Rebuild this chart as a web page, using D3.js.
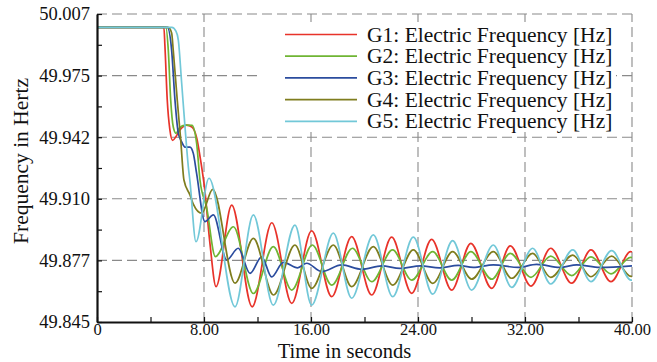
<!DOCTYPE html>
<html><head><meta charset="utf-8">
<script src="https://cdn.jsdelivr.net/npm/d3@7"></script>
<style>
html,body{margin:0;padding:0;background:#fff;}
</style></head>
<body><svg id="chart" width="657" height="362"></svg>
<script>
// ---------- data ----------
const seriesNames = ["G1: Electric Frequency [Hz]","G2: Electric Frequency [Hz]","G3: Electric Frequency [Hz]","G4: Electric Frequency [Hz]","G5: Electric Frequency [Hz]"];
const seriesColors = ["#e8332a","#6fb533","#2b4c9e","#7f7d1e","#72c8d8"];

const xTicks = [0, 8, 16, 24, 32, 40];
const xTickLabels = ["0", "8.00", "16.00", "24.00", "32.00", "40.00"];
const yTicks = [49.845, 49.8774, 49.9098, 49.9422, 49.9746, 50.007];
const yTickLabels = ["49.845", "49.877", "49.910", "49.942", "49.975", "50.007"];

const g1T = [0,5.0,5.08,5.25,5.45,5.65,5.9,6.2,6.7,7.1,7.45,7.75,8.05,8.45,8.9,10.07,11.6,13.07,14.56,16.05,17.55,19.04,20.54,22.03,23.53,25.02,26.52,27.95,29.51,30.9,32.45,33.92,35.49,36.93,38.43,39.9,40];
const g1F = [50.0,50.0,49.990,49.962,49.946,49.9405,49.9425,49.946,49.9486,49.9475,49.942,49.930,49.915,49.886,49.8636,49.9065,49.853,49.8972,49.8548,49.893,49.8583,49.8899,49.8592,49.8896,49.8601,49.8885,49.8618,49.8864,49.8627,49.885,49.8639,49.8838,49.8654,49.8829,49.8662,49.882,49.8818];

const g2T = [0,5.15,5.33,5.51,5.70,5.91,6.15,6.6,7.1,7.45,7.70,8.2,8.85,10.2,11.69,13.18,14.56,16.1,17.55,19.1,20.54,22.1,23.53,25.1,26.52,27.95,29.51,30.9,32.45,33.92,35.49,36.93,38.43,39.9,40];
const g2F = [50.0,50.0,49.988,49.9617,49.9477,49.9442,49.947,49.9486,49.9484,49.939,49.9197,49.905,49.8794,49.8951,49.860,49.8846,49.8618,49.8855,49.8644,49.8838,49.8662,49.8829,49.867,49.882,49.867,49.882,49.8675,49.8811,49.8685,49.8797,49.8694,49.8793,49.8703,49.879,49.8789];

const g3T = [0,5.26,5.58,5.83,6.08,6.33,6.58,6.95,7.2,7.45,8.07,8.70,9.70,10.56,11.44,12.31,13.06,13.93,15.0,15.68,16.8,18.3,19.79,21.29,22.65,24.2,25.6,27.0,28.13,29.63,31.5,32.87,34.62,35.87,37.61,40];
const g3F = [50.0,50.0,49.988,49.9617,49.9443,49.9398,49.937,49.937,49.9337,49.923,49.8978,49.9013,49.8776,49.8838,49.8706,49.8793,49.8687,49.8764,49.8735,49.8759,49.8715,49.875,49.8727,49.8745,49.8732,49.8745,49.8735,49.8748,49.8737,49.875,49.8737,49.8753,49.8737,49.875,49.8737,49.8745];

const g4T = [0,5.33,5.58,5.70,6.0,6.26,6.50,6.95,7.2,7.83,8.65,10.32,11.69,13.2,14.8,16.05,17.67,19.04,20.66,22.11,23.65,25.10,26.59,28.01,29.63,31.0,32.57,33.92,35.57,36.93,38.48,39.93,40];
const g4F = [50.0,50.0,49.997,49.988,49.9617,49.9407,49.9197,49.9118,49.907,49.9022,49.9148,49.8654,49.889,49.8592,49.8855,49.8627,49.8855,49.8636,49.8846,49.8644,49.8829,49.8653,49.882,49.8675,49.882,49.868,49.8811,49.8685,49.8802,49.8688,49.8797,49.869,49.869];

const g5T = [0,5.6,5.9,6.08,6.33,6.58,6.83,6.95,7.40,8.37,10.32,11.69,13.18,14.80,16.05,17.67,19.04,20.66,22.11,23.65,25.10,26.59,28.01,29.63,31.0,32.57,33.92,35.57,36.93,38.48,39.93,40];
const g5F = [50.0,50.0,49.998,49.9933,49.9707,49.9476,49.9265,49.919,49.8872,49.9206,49.853,49.9013,49.8539,49.896,49.8539,49.8917,49.8575,49.8908,49.8583,49.8896,49.8597,49.8878,49.8618,49.8855,49.8632,49.8838,49.865,49.8829,49.8662,49.8825,49.867,49.867];

const seriesT = [g1T, g2T, g3T, g4T, g5T];
const seriesF = [g1F, g2F, g3F, g4F, g5F];

// ---------- layout ----------
const FONT = "'Liberation Serif', 'Times New Roman', serif";
const svg = d3.select("#chart");
const mLeft = 97, mRight = 632, mTop = 14, mBottom = 322;
const x = d3.scaleLinear().domain([0, 40]).range([mLeft, mRight]);
const y = d3.scaleLinear().domain([49.845, 50.007]).range([mBottom, mTop]);

const gridColor = "#8a8a8a";
const grid = svg.append("g").attr("stroke", gridColor).attr("stroke-width", 1.1).attr("stroke-dasharray", "10,5");
grid.selectAll("line.h").data(yTicks.slice(1)).join("line").attr("class","h")
  .attr("x1", mLeft).attr("x2", mRight).attr("y1", d => y(d)).attr("y2", d => y(d));
grid.selectAll("line.v").data(xTicks.slice(1)).join("line").attr("class","v")
  .attr("y1", mBottom).attr("y2", mTop).attr("x1", d => x(d)).attr("x2", d => x(d));

// legend background (hides grid)
const legend = svg.append("g");
legend.append("rect").attr("x", 258).attr("y", 23).attr("width", 358).attr("height", 108).attr("fill", "#fff");

// lines
const line = d3.line().curve(d3.curveMonotoneX);
seriesT.forEach((ts, i) => {
  const pts = ts.map((t, j) => [x(t), y(seriesF[i][j])]);
  svg.append("path").attr("d", line(pts)).attr("fill", "none")
    .attr("stroke", seriesColors[i]).attr("stroke-width", 1.7).attr("stroke-linejoin","round");
});

// legend entries
seriesNames.forEach((name, i) => {
  const cy = 34.5 + i * 21.7;
  legend.append("line").attr("x1", 285).attr("x2", 357).attr("y1", cy).attr("y2", cy)
    .attr("stroke", seriesColors[i]).attr("stroke-width", 1.7);
  legend.append("text").attr("x", 367).attr("y", cy + 7).style("font-family", FONT)
    .style("font-size", "21.5px").style("fill", "#111").text(name);
});

// axes
const yMinor = d3.range(0, yTicks.length - 1).map(i => (yTicks[i] + yTicks[i+1]) / 2);
const xMinor = d3.range(0, xTicks.length - 1).map(i => (xTicks[i] + xTicks[i+1]) / 2);

const yAxis = svg.append("g").attr("transform", `translate(${mLeft},0)`)
  .call(d3.axisLeft(y).tickValues(yTicks).tickSizeInner(-5).tickSizeOuter(0).tickPadding(7)
    .tickFormat((d, i) => yTickLabels[i]));
svg.append("g").attr("transform", `translate(${mLeft},0)`)
  .call(d3.axisLeft(y).tickValues(yMinor).tickSizeInner(-5).tickSizeOuter(0).tickFormat(""))
  .select(".domain").remove();

const xAxis = svg.append("g").attr("transform", `translate(0,${mBottom})`)
  .call(d3.axisBottom(x).tickValues(xTicks).tickSizeInner(-5).tickSizeOuter(0).tickPadding(1.5)
    .tickFormat((d, i) => xTickLabels[i]));
svg.append("g").attr("transform", `translate(0,${mBottom})`)
  .call(d3.axisBottom(x).tickValues(xMinor).tickSizeInner(-5).tickSizeOuter(0).tickFormat(""))
  .select(".domain").remove();

svg.selectAll(".domain").attr("stroke", "#111").attr("stroke-width", 2.2);
svg.selectAll(".tick line").attr("stroke", "#111").attr("stroke-width", 1.2);
yAxis.selectAll(".tick text").style("font-size", "18.5px").style("font-family", FONT).style("fill", "#111");
xAxis.selectAll(".tick text").style("font-size", "16.5px").style("font-family", FONT).style("fill", "#111");

// axis titles
svg.append("text").attr("x", 344.5).attr("y", 357.5).attr("text-anchor", "middle")
  .style("font-family", FONT).style("font-size", "20.5px").style("fill", "#111").text("Time in seconds");
svg.append("text").attr("transform", `translate(28,${161}) rotate(-90)`).attr("text-anchor", "middle")
  .style("font-family", FONT).style("font-size", "21.5px").style("fill", "#111").text("Frequency in Hertz");
</script></body></html>
